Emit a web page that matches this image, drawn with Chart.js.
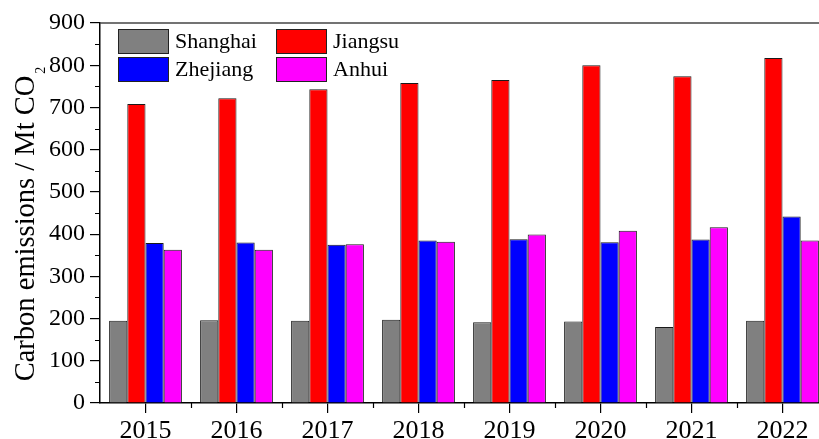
<!DOCTYPE html>
<html>
<head>
<meta charset="utf-8">
<script src="https://cdn.jsdelivr.net/npm/chart.js@4/dist/chart.umd.min.js"></script>
<style>
  html, body { margin: 0; padding: 0; background: #fff; overflow: hidden; }
  #chart { display: block; }
</style>
</head>
<body>
<canvas id="chart" width="830" height="439"></canvas>
<script>
const years = ["2015", "2016", "2017", "2018", "2019", "2020", "2021", "2022"];
const shanghai = [195, 196, 195, 197, 191, 193, 180, 195];
const jiangsu = [708, 722, 743, 758, 765, 800, 774, 817];
const zhejiang = [379, 380, 375, 385, 388, 381, 387, 442];
const anhui = [363, 363, 376, 382, 399, 408, 416, 385];

const serif = "'Liberation Serif', 'Times New Roman', serif";

const series = [
  { label: "Shanghai", data: shanghai, color: "#808080" },
  { label: "Jiangsu", data: jiangsu, color: "#ff0000" },
  { label: "Zhejiang", data: zhejiang, color: "#0000ff" },
  { label: "Anhui", data: anhui, color: "#ff00ff" },
];

// frame line on top, minor ticks, y title with subscript, two-column legend
const frameAndLegend = {
  id: "frameAndLegend",
  afterDraw(chart) {
    const { ctx, chartArea: a, scales } = chart;
    ctx.save();
    ctx.strokeStyle = "#444";
    ctx.lineWidth = 1.5;
    ctx.beginPath();
    ctx.moveTo(a.left, a.top);
    ctx.lineTo(a.right, a.top);
    ctx.stroke();

    ctx.strokeStyle = "#000";
    ctx.lineWidth = 1.2;
    ctx.beginPath();
    for (let v = 50; v < 900; v += 100) {
      const y = Math.round(scales.y.getPixelForValue(v)) + 0.5;
      ctx.moveTo(a.left, y);
      ctx.lineTo(a.left - 5, y);
    }
    for (let i = 0; i < years.length; i++) {
      const x = Math.round(scales.x.getPixelForValue(i + 0.5)) + 0.5;
      ctx.moveTo(x, a.bottom);
      ctx.lineTo(x, a.bottom + 5);
    }
    ctx.stroke();

    // axis title, rotated, "CO" followed by a lowered small "2"
    const main = "Carbon emissions / Mt CO";
    const titleFont = "28.5px " + serif;
    const subFont = "14px " + serif;
    ctx.font = titleFont;
    const wMain = ctx.measureText(main).width;
    ctx.font = subFont;
    const wSub = ctx.measureText("2").width;
    const total = wMain + 2 + wSub;
    const cy = (a.top + a.bottom) / 2 + 11;
    ctx.translate(34, cy + total / 2);
    ctx.rotate(-Math.PI / 2);
    ctx.fillStyle = "#000";
    ctx.textAlign = "left";
    ctx.textBaseline = "alphabetic";
    ctx.font = titleFont;
    ctx.fillText(main, 0, 0);
    ctx.font = subFont;
    ctx.fillText("2", wMain + 2, 11);
    ctx.setTransform(1, 0, 0, 1, 0, 0);

    ctx.font = "22px " + serif;
    ctx.textBaseline = "middle";
    series.forEach((s, i) => {
      const col = i % 2;
      const row = Math.floor(i / 2);
      const bx = a.left + 18 + col * 158;
      const by = a.top + 6 + row * 28;
      ctx.fillStyle = s.color;
      ctx.fillRect(bx, by, 50, 24);
      ctx.strokeStyle = "#222";
      ctx.lineWidth = 1;
      ctx.strokeRect(bx + 0.5, by + 0.5, 50, 24);
      ctx.fillStyle = "#000";
      ctx.fillText(s.label, bx + 57, by + 13);
    });
    ctx.restore();
  },
};

new Chart(document.getElementById("chart"), {
  type: "bar",
  data: {
    labels: years,
    datasets: series.map((s) => ({
      label: s.label,
      data: s.data,
      backgroundColor: s.color,
      borderColor: "#1a1a1a",
      borderWidth: 1,
      categoryPercentage: 0.8,
      barPercentage: 1.0,
    })),
  },
  options: {
    responsive: false,
    animation: false,
    layout: { padding: { left: 0, right: 2, top: 23, bottom: 0 } },
    plugins: {
      legend: { display: false },
      tooltip: { enabled: false },
    },
    scales: {
      x: {
        offset: true,
        grid: {
          offset: false,
          drawOnChartArea: false,
          tickLength: 10,
          color: "#000",
          lineWidth: 1.2,
        },
        border: { color: "#000", width: 1.5 },
        ticks: {
          color: "#000",
          font: { family: serif, size: 26 },
          padding: 3,
          maxRotation: 0,
        },
        afterFit: (s) => { s.height = 36; },
      },
      y: {
        min: 0,
        max: 900,
        grid: {
          drawOnChartArea: false,
          tickLength: 10,
          color: "#000",
          lineWidth: 1.2,
        },
        border: { color: "#000", width: 1.5 },
        ticks: {
          stepSize: 100,
          color: "#000",
          font: { family: serif, size: 24 },
          padding: 5,
        },
        afterFit: (s) => { s.width = 100; },
      },
    },
  },
  plugins: [frameAndLegend],
});
</script>
</body>
</html>
